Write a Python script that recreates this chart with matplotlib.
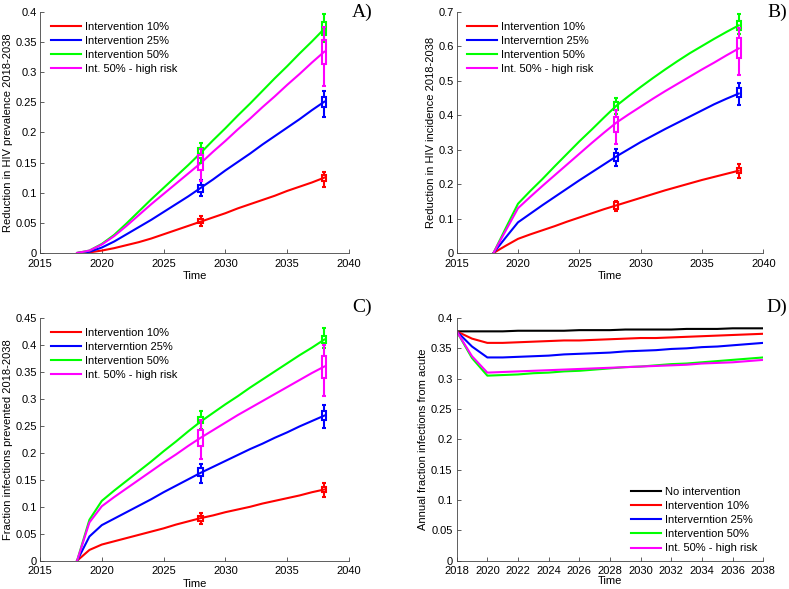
import matplotlib
matplotlib.use("Agg")
import matplotlib.pyplot as plt
import numpy as np

plt.rcParams['font.family'] = ['Liberation Sans', 'DejaVu Sans']
plt.rcParams['font.size'] = 8

# ---- data ----
years = np.arange(2018, 2039)

# A) reduction in HIV prevalence
a_red = [0, 0.001, 0.004, 0.008, 0.013, 0.018, 0.024, 0.031, 0.038, 0.045, 0.052,
         0.059, 0.066, 0.074, 0.081, 0.088, 0.095, 0.103, 0.110, 0.117, 0.125]
a_blue = [0, 0.002, 0.009, 0.019, 0.031, 0.043, 0.055, 0.068, 0.081, 0.094, 0.108,
          0.122, 0.137, 0.151, 0.165, 0.180, 0.194, 0.208, 0.222, 0.237, 0.251]
a_green = [0, 0.004, 0.015, 0.030, 0.049, 0.069, 0.089, 0.108, 0.127, 0.146, 0.166,
           0.187, 0.207, 0.228, 0.248, 0.269, 0.290, 0.310, 0.331, 0.351, 0.372]
a_mag = [0, 0.004, 0.014, 0.028, 0.045, 0.063, 0.081, 0.098, 0.115, 0.132, 0.149,
         0.168, 0.186, 0.205, 0.223, 0.242, 0.260, 0.279, 0.297, 0.316, 0.334]

# B) reduction in HIV incidence
b_red = [0, 0.021, 0.041, 0.054, 0.066, 0.078, 0.091, 0.103, 0.115, 0.127, 0.138,
         0.149, 0.160, 0.171, 0.182, 0.192, 0.202, 0.212, 0.221, 0.230, 0.239]
b_blue = [0, 0.045, 0.089, 0.114, 0.139, 0.163, 0.187, 0.211, 0.234, 0.257, 0.280,
          0.301, 0.322, 0.341, 0.360, 0.378, 0.396, 0.414, 0.432, 0.448, 0.463]
b_green = [0, 0.072, 0.143, 0.180, 0.215, 0.252, 0.288, 0.324, 0.358, 0.393, 0.427,
           0.455, 0.482, 0.508, 0.533, 0.557, 0.580, 0.601, 0.622, 0.642, 0.661]
b_mag = [0, 0.065, 0.130, 0.163, 0.195, 0.226, 0.257, 0.288, 0.319, 0.349, 0.378,
         0.402, 0.425, 0.448, 0.470, 0.491, 0.512, 0.533, 0.553, 0.574, 0.594]

# C) fraction infections prevented
c_red = [0, 0.020, 0.030, 0.036, 0.042, 0.048, 0.054, 0.060, 0.067, 0.073, 0.079,
         0.084, 0.090, 0.095, 0.100, 0.106, 0.111, 0.116, 0.121, 0.127, 0.132]
c_blue = [0, 0.045, 0.066, 0.078, 0.090, 0.102, 0.114, 0.127, 0.139, 0.151, 0.163,
          0.174, 0.185, 0.196, 0.207, 0.217, 0.228, 0.238, 0.249, 0.259, 0.269]
c_green = [0, 0.076, 0.111, 0.130, 0.148, 0.166, 0.184, 0.203, 0.221, 0.240, 0.258,
           0.274, 0.290, 0.305, 0.321, 0.336, 0.351, 0.366, 0.381, 0.395, 0.410]
c_mag = [0, 0.071, 0.101, 0.118, 0.134, 0.150, 0.166, 0.182, 0.197, 0.213, 0.228,
         0.242, 0.256, 0.270, 0.283, 0.296, 0.309, 0.322, 0.335, 0.348, 0.360]

# D) annual fraction infections from acute
d_black = [0.378, 0.378, 0.378, 0.378, 0.379, 0.379, 0.379, 0.379, 0.380, 0.380, 0.380,
           0.381, 0.381, 0.381, 0.381, 0.382, 0.382, 0.382, 0.383, 0.383, 0.383]
d_red = [0.378, 0.366, 0.359, 0.359, 0.360, 0.361, 0.362, 0.363, 0.363, 0.364, 0.365,
         0.366, 0.367, 0.367, 0.368, 0.369, 0.370, 0.371, 0.372, 0.373, 0.374]
d_blue = [0.378, 0.353, 0.335, 0.335, 0.336, 0.337, 0.338, 0.340, 0.341, 0.342, 0.343,
          0.345, 0.346, 0.347, 0.349, 0.350, 0.352, 0.353, 0.355, 0.357, 0.359]
d_green = [0.378, 0.334, 0.305, 0.306, 0.307, 0.309, 0.310, 0.312, 0.313, 0.315, 0.317,
           0.319, 0.320, 0.322, 0.324, 0.325, 0.327, 0.329, 0.331, 0.333, 0.335]
d_mag = [0.378, 0.337, 0.310, 0.311, 0.312, 0.313, 0.314, 0.315, 0.316, 0.317, 0.318,
         0.319, 0.320, 0.321, 0.322, 0.323, 0.325, 0.326, 0.327, 0.329, 0.331]

# uncertainty boxes at 2028 and 2038: (low whisker, box low, box high, high whisker)
err_years = [2028, 2038]
a_err = {
    'red': ([0.044, 0.110], [0.050, 0.120], [0.056, 0.129], [0.061, 0.135]),
    'blue': ([0.094, 0.225], [0.102, 0.242], [0.113, 0.259], [0.121, 0.269]),
    'green': ([0.150, 0.350], [0.157, 0.361], [0.174, 0.383], [0.183, 0.396]),
    'mag': ([0.119, 0.277], [0.138, 0.314], [0.163, 0.354], [0.172, 0.375]),
}
b_err = {
    'red': ([0.121, 0.217], [0.127, 0.232], [0.147, 0.246], [0.151, 0.259]),
    'blue': ([0.253, 0.430], [0.266, 0.452], [0.290, 0.478], [0.301, 0.495]),
    'green': ([0.405, 0.635], [0.415, 0.647], [0.439, 0.674], [0.451, 0.693]),
    'mag': ([0.316, 0.518], [0.350, 0.565], [0.396, 0.623], [0.415, 0.652]),
}
c_err = {
    'red': ([0.069, 0.119], [0.074, 0.128], [0.083, 0.137], [0.088, 0.145]),
    'blue': ([0.145, 0.246], [0.157, 0.261], [0.171, 0.277], [0.180, 0.289]),
    'green': ([0.245, 0.394], [0.255, 0.404], [0.267, 0.417], [0.278, 0.431]),
    'mag': ([0.188, 0.305], [0.212, 0.339], [0.243, 0.379], [0.260, 0.400]),
}

colors = {'black': '#000000', 'red': '#ff0000', 'blue': '#0000ff',
          'green': '#00ff00', 'mag': '#ff00ff'}
labels_a = ['Intervention 10%', 'Intervention 25%', 'Intervention 50%', 'Int. 50% - high risk']
labels_bc = ['Intervention 10%', 'Interverntion 25%', 'Intervention 50%', 'Int. 50% - high risk']
labels_d = ['No intervention'] + labels_bc


def style_axes(ax):
    for s in ['top', 'right']:
        ax.spines[s].set_visible(False)
    for s in ['left', 'bottom']:
        ax.spines[s].set_linewidth(0.6)
        ax.spines[s].set_color('#444444')
    ax.tick_params(direction='in', length=3, width=0.6, color='#444444',
                   labelsize=8, pad=2)
    ax.tick_params(axis='x', pad=4)
    ax.yaxis.set_major_formatter(matplotlib.ticker.FormatStrFormatter('%g'))


def draw_box(ax, x, lo, q1, q3, hi, c, w=0.36, cw=0.3):
    ax.vlines(x, lo, q1, color=c, lw=1.5, zorder=4)
    ax.vlines(x, q3, hi, color=c, lw=1.5, zorder=4)
    ax.hlines([lo, hi], x - cw / 2, x + cw / 2, color=c, lw=1.5, zorder=4)
    ax.add_patch(plt.Rectangle((x - w / 2, q1), w, q3 - q1, fill=False,
                               edgecolor=c, lw=1.5, zorder=4))


def draw_panel(ax, series, errs, labels, ylim, yticks, ylabel):
    keys = ['red', 'blue', 'green', 'mag']
    lines = []
    for k, vals in zip(keys, series):
        ln, = ax.plot(years, vals, color=colors[k], lw=1.5)
        lines.append(ln)
    for k in keys:
        lo, q1, q3, hi = errs[k]
        for i, x in enumerate(err_years):
            draw_box(ax, x, lo[i], q1[i], q3[i], hi[i], colors[k])
    ax.set_xlim(2015, 2040)
    ax.set_xticks([2015, 2020, 2025, 2030, 2035, 2040])
    ax.set_ylim(*ylim)
    ax.set_yticks(yticks)
    ax.set_xlabel('Time', labelpad=2)
    ax.set_ylabel(ylabel, labelpad=2)
    style_axes(ax)
    ax.legend(lines, labels, loc='upper left', bbox_to_anchor=(0.035, 0.96),
              frameon=False, handlelength=2.7, handletextpad=0.35,
              labelspacing=0.38, borderpad=0, borderaxespad=0, fontsize=8)


fig = plt.figure(figsize=(7.89, 5.89), dpi=100)
axA = fig.add_axes([0.0507, 0.5705, 0.3916, 0.4092])
axB = fig.add_axes([0.5788, 0.5705, 0.3886, 0.4092])
axC = fig.add_axes([0.0507, 0.0480, 0.3916, 0.4121])
axD = fig.add_axes([0.5788, 0.0480, 0.3886, 0.4121])

draw_panel(axA, [a_red, a_blue, a_green, a_mag], a_err, labels_a, (0, 0.4),
           np.arange(0, 0.401, 0.05), 'Reduction in HIV prevalence 2018-2038')
draw_panel(axB, [b_red, b_blue, b_green, b_mag], b_err, labels_bc, (0, 0.7),
           np.arange(0, 0.701, 0.1), 'Reduction in HIV incidence 2018-2038')
draw_panel(axC, [c_red, c_blue, c_green, c_mag], c_err, labels_bc, (0, 0.45),
           np.arange(0, 0.451, 0.05), 'Fraction infections prevented 2018-2038')

d_lines = []
for k, vals in zip(['black', 'red', 'blue', 'green', 'mag'],
                   [d_black, d_red, d_blue, d_green, d_mag]):
    ln, = axD.plot(years, vals, color=colors[k], lw=1.5)
    d_lines.append(ln)
axD.set_xlim(2018, 2038)
axD.set_xticks(np.arange(2018, 2039, 2))
axD.set_ylim(0, 0.4)
axD.set_yticks(np.arange(0, 0.401, 0.05))
axD.set_xlabel('Time', labelpad=0)
axD.set_ylabel('Annual fraction infections from acute', labelpad=2)
style_axes(axD)
axD.tick_params(axis='x', pad=3.5)
axD.tick_params(axis='y', pad=3)
axD.legend(d_lines, labels_d, loc='lower right', bbox_to_anchor=(0.98, 0.03),
           frameon=False, handlelength=2.7, handletextpad=0.35,
           labelspacing=0.38, borderpad=0, borderaxespad=0, fontsize=8)

for lab, (x, y) in zip(['A)', 'B)', 'C)', 'D)'],
                       [(362, 12), (777, 12), (362, 307), (777, 307)]):
    fig.text(x / 789, 1 - y / 589, lab, ha='center', va='center',
             family=['Liberation Serif', 'DejaVu Serif'], fontsize=14)

fig.savefig('out.png', dpi=100)
